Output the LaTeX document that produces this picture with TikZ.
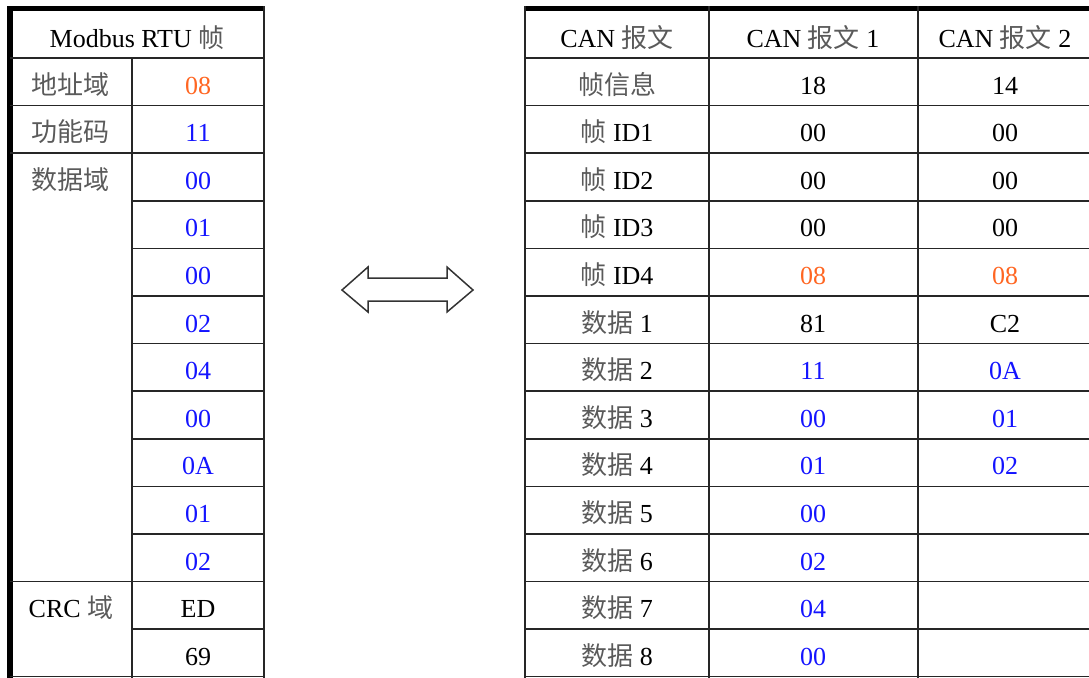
\documentclass[tikz,border=0pt]{standalone}
\usepackage{fontspec}
\setmainfont{Liberation Serif}
\newfontfamily\cjk{Noto Sans CJK SC}
\usepackage{xcolor}
\definecolor{addrorange}{RGB}{255,102,34}
\definecolor{datablue}{RGB}{20,20,255}
\definecolor{zhgray}{RGB}{90,90,90}
\newcommand{\zh}[1]{{\cjk\color{zhgray}#1}}
\newcommand{\rh}{47.6}

\begin{document}
\begin{tikzpicture}[x=0.5pt,y=-0.5pt,
    grid/.style={line width=0.75pt,black!85},
    toprule/.style={line width=2.5pt},
    cell/.style={anchor=base,inner sep=0pt,font=\fontsize{13}{15}\selectfont}]
    \useasboundingbox (0,0) rectangle (1089,677);
    \clip (0,0) rectangle (1089,677);
    % Modbus RTU frame
    \draw[toprule] (7,8.5) -- (265,8.5);
    \draw[line width=3pt] (10,6) -- (10,680);
    \draw[grid] (264,6) -- (264,680);
    \draw[grid] (132,58) -- (132,680);
    \draw[grid] (10,58) -- (264,58);
    \foreach \k in {1,2,11}
        \draw[grid] (10,{58+\k*\rh}) -- (132,{58+\k*\rh});
    \foreach \k in {1,...,12}
        \draw[grid] (132,{58+\k*\rh}) -- (264,{58+\k*\rh});
    \draw[grid] (10,676.5) -- (264,676.5);
    \node[cell] (mhead) at (137,47) {Modbus RTU \zh{帧}};
    \node[cell] (maddr) at (71,94) {\zh{地址域}};
    \node[cell] (mfunc) at (71,{94+\rh}) {\zh{功能码}};
    \node[cell] (mdata) at (71,{94+2*\rh}) {\zh{数据域}};
    \node[cell] (mcrc) at (71,{94+11*\rh}) {CRC \zh{域}};
    \foreach \v/\c [count=\k from 0] in {08/addrorange,11/datablue,00/datablue,01/datablue,00/datablue,02/datablue,04/datablue,00/datablue,0A/datablue,01/datablue,02/datablue,ED/black,69/black}
        \node[cell,text=\c] (mv\k) at (198,{94+\k*\rh}) {\v};
    % CAN frames
    \draw[toprule] (524,8.5) -- (1089,8.5);
    \foreach \x in {525,709,918}
        \draw[grid] (\x,6) -- (\x,680);
    \foreach \k in {0,...,12}
        \draw[grid] (525,{58+\k*\rh}) -- (1089,{58+\k*\rh});
    \draw[grid] (525,676.5) -- (1089,676.5);
    \node[cell] (chead) at (617,47) {CAN \zh{报文}};
    \node[cell] (chone) at (813,47) {CAN \zh{报文} 1};
    \node[cell] (chtwo) at (1005,47) {CAN \zh{报文} 2};
    \foreach \lab/\va/\ca/\vb/\cb [count=\k from 0] in {
        {\zh{帧信息}}/18/black/14/black,
        {\zh{帧} ID1}/00/black/00/black,
        {\zh{帧} ID2}/00/black/00/black,
        {\zh{帧} ID3}/00/black/00/black,
        {\zh{帧} ID4}/08/addrorange/08/addrorange,
        {\zh{数据} 1}/81/black/C2/black,
        {\zh{数据} 2}/11/datablue/0A/datablue,
        {\zh{数据} 3}/00/datablue/01/datablue,
        {\zh{数据} 4}/01/datablue/02/datablue,
        {\zh{数据} 5}/00/datablue/{}/black,
        {\zh{数据} 6}/02/datablue/{}/black,
        {\zh{数据} 7}/04/datablue/{}/black,
        {\zh{数据} 8}/00/datablue/{}/black}
    {
        \node[cell] (cl\k) at (617,{94+\k*\rh}) {\lab};
        \node[cell,text=\ca] (ca\k) at (813,{94+\k*\rh}) {\va};
        \node[cell,text=\cb] (cb\k) at (1005,{94+\k*\rh}) {\vb};
    }
    % two-way arrow
    \draw[line width=0.75pt,black!80,line join=miter] (342,290) -- (368,267) -- (368,278) -- (447,278) -- (447,267) -- (473,290)
        -- (447,312) -- (447,301) -- (368,301) -- (368,312) -- cycle;
\end{tikzpicture}
\end{document}
